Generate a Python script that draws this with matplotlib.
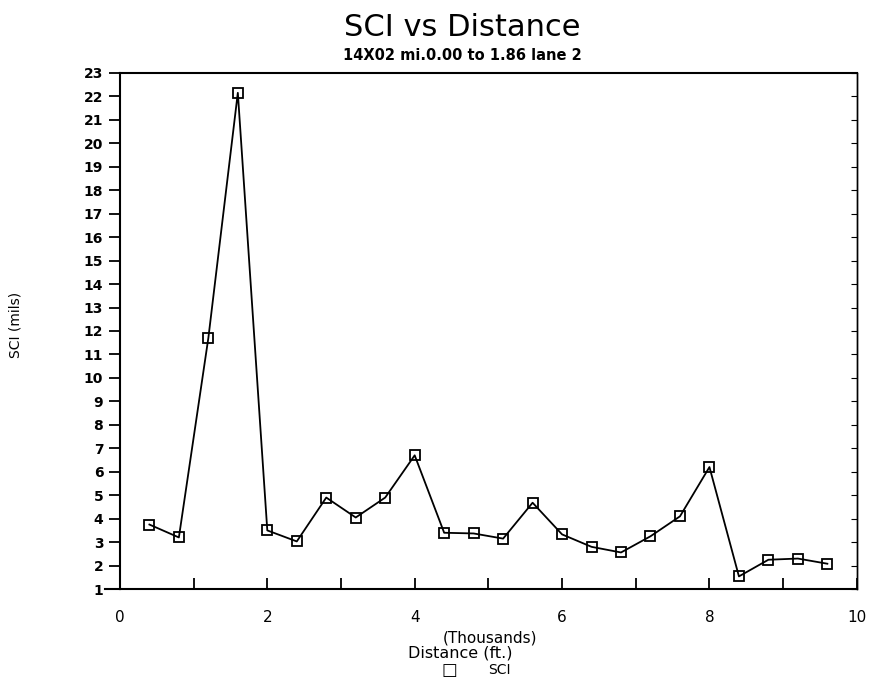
import matplotlib
matplotlib.use("Agg")
import matplotlib.pyplot as plt
from matplotlib.ticker import MultipleLocator, FixedLocator, NullFormatter

distance = [0.4, 0.8, 1.2, 1.6, 2.0, 2.4, 2.8, 3.2, 3.6, 4.0, 4.4, 4.8,
            5.2, 5.6, 6.0, 6.4, 6.8, 7.2, 7.6, 8.0, 8.4, 8.8, 9.2, 9.6]
sci = [3.75, 3.2, 11.7, 22.15, 3.5, 3.03, 4.9, 4.05, 4.9, 6.7, 3.4, 3.37,
       3.15, 4.68, 3.33, 2.8, 2.56, 3.25, 4.1, 6.2, 1.54, 2.25, 2.3, 2.08]
y_ticks = list(range(1, 24))
x_label_ticks = [0, 2, 4, 6, 8, 10]

fig = plt.figure(figsize=(8.69, 6.81), dpi=100)
ax = fig.add_axes([0.138, 0.135, 0.848, 0.758])

ax.plot(distance, sci, color="black", lw=1.3, marker="s", ms=7,
        mfc="none", mec="black", mew=1.3)

ax.set_xlim(0, 10)
ax.set_ylim(1, 23)
ax.yaxis.set_major_locator(FixedLocator(y_ticks))
ax.xaxis.set_major_locator(FixedLocator(x_label_ticks))
ax.xaxis.set_minor_locator(MultipleLocator(1))
ax.tick_params(axis="y", direction="out", length=8, width=1.3, labelsize=10,
               pad=4)
ax.tick_params(axis="x", which="both", direction="in", length=8, width=1.3,
               labelsize=11, pad=15)
for lab in ax.get_yticklabels():
    lab.set_fontweight("bold")
for s in ax.spines.values():
    s.set_linewidth(1.5)
ax.spines["right"].set_linewidth(1.0)

sec = ax.secondary_yaxis("right")
sec.yaxis.set_major_locator(FixedLocator(y_ticks))
sec.yaxis.set_major_formatter(NullFormatter())
sec.tick_params(direction="in", length=4, width=0.8)
sec.spines["right"].set_linewidth(1.0)

# x axis line extends slightly left of the y axis
ax.plot([-0.2, 0], [1, 1], color="black", lw=1.5, clip_on=False)

fig.text(0.532, 0.947, "SCI vs Distance", ha="center", va="baseline", fontsize=22)
fig.text(0.532, 0.918, "14X02 mi.0.00 to 1.86 lane 2", ha="center", va="center",
         fontsize=10.5, fontweight="bold")
fig.text(0.018, 0.523, "SCI (mils)", rotation=90, ha="center", va="center",
         fontsize=10)
fig.text(0.564, 0.063, "(Thousands)", ha="center", va="center", fontsize=11)
fig.text(0.530, 0.041, "Distance (ft.)", ha="center", va="center", fontsize=11.5)
fig.text(0.517, 0.016, "\u25a1", ha="center", va="center", fontsize=12)
fig.text(0.575, 0.016, "SCI", ha="center", va="center", fontsize=10)

fig.savefig("out.png", dpi=100)
